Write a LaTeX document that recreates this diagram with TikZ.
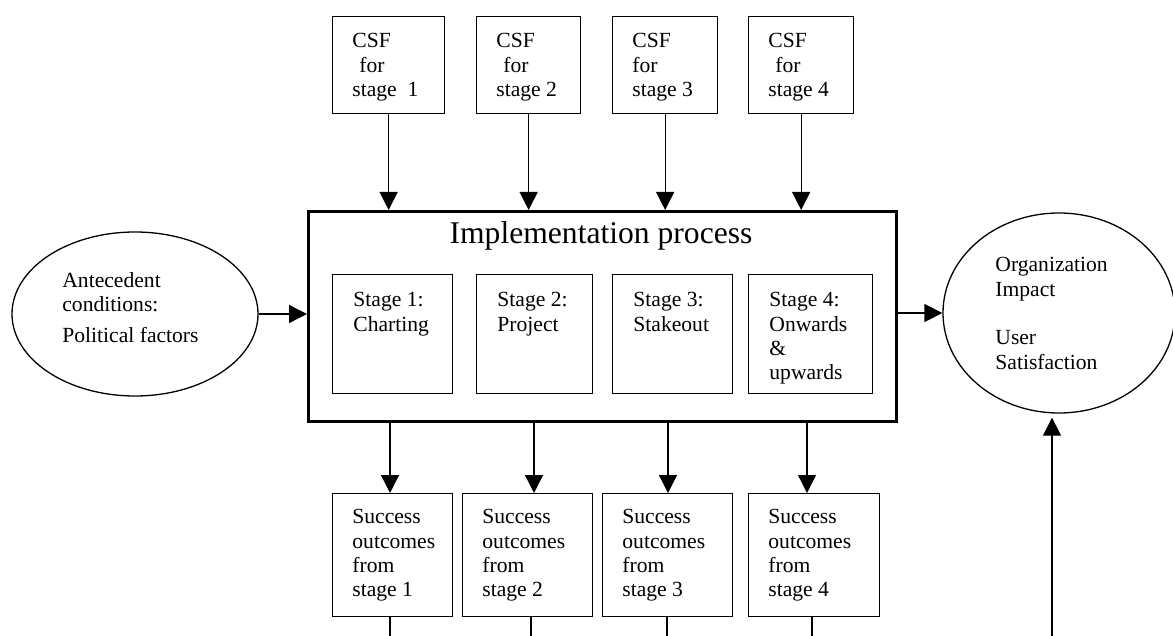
\documentclass[tikz,border=0pt]{standalone}
\usepackage{fontspec}
\setmainfont{Liberation Serif}
\usetikzlibrary{arrows.meta,shapes.geometric,positioning}
\tikzset{
  box/.style={draw, line width=0.65pt, inner sep=0pt, anchor=north west},
  txt/.style={align=left, inner sep=0pt, anchor=north west, font=\fontsize{10.8}{12.2}\selectfont},
  oval/.style={draw, ellipse, line width=0.65pt, inner sep=0pt},
  arr/.style={line width=0.65pt, -{Triangle[length=9pt,width=9pt]}},
  link/.style={line width=0.65pt},
}
\begin{document}
\begin{tikzpicture}[x=0.5pt, y=-0.5pt]
\useasboundingbox (0,0) rectangle (1173,636);

% CSF boxes on top
\node[box, minimum width=56pt, minimum height=48.5pt] (csf1) at (332,16) {};
\node[box, minimum width=52pt, minimum height=48.5pt] (csf2) at (476,16) {};
\node[box, minimum width=52.5pt, minimum height=48.5pt] (csf3) at (612,16) {};
\node[box, minimum width=52.5pt, minimum height=48.5pt] (csf4) at (748,16) {};
\node[txt] (csf1t) at ([shift={(20,17)}]csf1.north west) {CSF\\\hspace*{3.5pt}for\\stage\ \ 1};
\node[txt] (csf2t) at ([shift={(20,17)}]csf2.north west) {CSF\\\hspace*{3.5pt}for\\stage 2};
\node[txt] (csf3t) at ([shift={(20,17)}]csf3.north west) {CSF\\for\\stage 3};
\node[txt] (csf4t) at ([shift={(20,17)}]csf4.north west) {CSF\\\hspace*{3.5pt}for\\stage 4};

% implementation process
\node[box, line width=1.6pt, minimum width=294pt, minimum height=105pt] (main) at (307,210) {};
\node[font=\fontsize{15.8}{18}\selectfont, anchor=base, inner sep=0pt] (title) at (601,244) {Implementation process};

\node[box, minimum width=60pt, minimum height=59.5pt] (st1) at (332,274) {};
\node[box, minimum width=58pt, minimum height=59.5pt] (st2) at (476,274) {};
\node[box, minimum width=60pt, minimum height=59.5pt] (st3) at (612,274) {};
\node[box, minimum width=62pt, minimum height=59.5pt] (st4) at (748,274) {};
\node[txt] (st1t) at ([shift={(21,18)}]st1.north west) {Stage 1:\\Charting};
\node[txt] (st2t) at ([shift={(21,18)}]st2.north west) {Stage 2:\\Project};
\node[txt] (st3t) at ([shift={(21,18)}]st3.north west) {Stage 3:\\Stakeout};
\node[txt] (st4t) at ([shift={(21,18)}]st4.north west) {Stage 4:\\Onwards\\\&\\upwards};

% success outcomes
\node[box, minimum width=60pt, minimum height=61.5pt] (succ1) at (332,493) {};
\node[box, minimum width=65pt, minimum height=61.5pt] (succ2) at (462,493) {};
\node[box, minimum width=65pt, minimum height=61.5pt] (succ3) at (602,493) {};
\node[box, minimum width=65.5pt, minimum height=61.5pt] (succ4) at (748,493) {};
\node[txt] (succ1t) at ([shift={(20,16)}]succ1.north west) {Success\\outcomes\\from\\stage 1};
\node[txt] (succ2t) at ([shift={(20,16)}]succ2.north west) {Success\\outcomes\\from\\stage 2};
\node[txt] (succ3t) at ([shift={(20,16)}]succ3.north west) {Success\\outcomes\\from\\stage 3};
\node[txt] (succ4t) at ([shift={(20,16)}]succ4.north west) {Success\\outcomes\\from\\stage 4};

% ellipses
\node[oval, minimum width=123pt, minimum height=82pt] (ante) at (135,314) {};
\node[txt] (antet) at (62,272) {Antecedent\\conditions:\\[3pt]Political factors};
\node[oval, minimum width=116pt, minimum height=100pt] (impact) at (1059,313) {};
\node[txt] (impactt) at (995,257) {Organization\\Impact\\[12.2pt]User\\Satisfaction};

% connectors
\draw[arr] (ante.east) -- (ante.east -| main.west);
\draw[arr] (main.east |- impact.west) -- (impact.west);
\foreach \i in {1,...,4}
  \draw[arr] (csf\i.south) -- (csf\i.south |- main.north);
\foreach \i/\x in {1/390, 2/534, 3/668, 4/807}
  \draw[arr] (main.south -| \x,0) -- (succ\i.north -| \x,0);
\foreach \i/\x in {1/390, 2/531, 3/667, 4/812} {
  \coordinate (low\i) at (\x,640);
  \draw[link] (succ\i.south -| low\i) -- (low\i);
}
\coordinate (feed) at (1052,640);
\draw[arr, shorten >=2pt] (feed) -- (feed |- impact.south);
\end{tikzpicture}
\end{document}
